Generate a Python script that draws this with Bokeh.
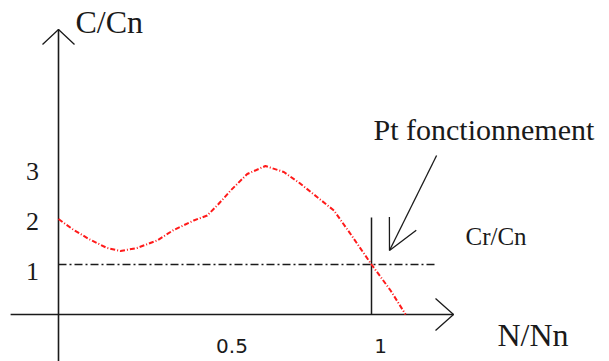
from bokeh.plotting import figure
from bokeh.models import Range1d, Arrow, OpenHead, ColumnDataSource
from bokeh.core.properties import value
from bokeh.embed import file_html
from bokeh.resources import INLINE

# ---- data ----
curve_x = [0.0, 0.044, 0.097, 0.155, 0.198, 0.251, 0.315, 0.368, 0.432, 0.475,
           0.507, 0.55, 0.603, 0.661, 0.72, 0.77, 0.826, 0.88, 0.933, 1.0, 1.061, 1.109]
curve_y = [1.91, 1.71, 1.51, 1.33, 1.27, 1.33, 1.48, 1.69, 1.88, 1.98,
           2.18, 2.48, 2.81, 2.97, 2.85, 2.63, 2.35, 2.08, 1.61, 1.0, 0.48, 0.0]
y_ticks = [1, 2, 3]
y_tick_labels = ["1", "2", "3"]
x_ticks = [0.5, 1]
x_tick_labels = ["0.5", "1"]
load_level = 1.0        # Cr/Cn
nominal_speed = 1.0     # N/Nn = 1

# ---- layout (pixel scale: 313 px per x unit, 50 px per y unit) ----
PX_X = 313.0
PX_Y = 50.0
W, H = 609, 361
OX, OY = 58, 314   # pixel position of the origin

p = figure(width=W, height=H, output_backend="svg", toolbar_location=None,
           x_range=Range1d(-OX / PX_X, (W - OX) / PX_X),
           y_range=Range1d(-(H - OY) / PX_Y, OY / PX_Y),
           x_axis_type=None, y_axis_type=None, min_border=0)
p.grid.visible = False
p.outline_line_color = None
p.background_fill_color = "white"
p.border_fill_color = "white"

ink = "#1a1a1a"

# axes lines
x_axis_end = 1.262
y_axis_end = 5.70
p.line([-0.153, x_axis_end], [0, 0], line_color=ink, line_width=1.6)
p.line([0, 0], [-1.0, y_axis_end], line_color=ink, line_width=1.6)
# axis arrow heads (open)
p.multi_line(
    xs=[[-16 / PX_X, 0, 16 / PX_X],
        [x_axis_end - 18 / PX_X, x_axis_end, x_axis_end - 18 / PX_X]],
    ys=[[y_axis_end - 15 / PX_Y, y_axis_end, y_axis_end - 15 / PX_Y],
        [16 / PX_Y, 0, -16 / PX_Y]],
    line_color=ink, line_width=1.3)

# load line Cr/Cn (dash-dot)
p.line([0, 1.205], [load_level, load_level], line_color=ink, line_width=1.5,
       line_dash="8 3 2 3")
# vertical line at N/Nn = 1
p.line([nominal_speed, nominal_speed], [0, 1.94], line_color=ink, line_width=1.5)

# motor torque curve
src = ColumnDataSource(dict(x=curve_x, y=curve_y))
p.line("x", "y", source=src, line_color="#ff1a1a", line_width=2,
       line_dash="5 2 1 2")

# operating point arrow
p.add_layout(Arrow(end=OpenHead(size=30, line_color=ink, line_width=1.3),
                   x_start=1.208, y_start=3.18, x_end=1.0575, y_end=1.28,
                   line_color=ink, line_width=1.3))

serif = value("Liberation Serif")

# tick labels
p.text(x=[0] * len(y_ticks), y=y_ticks, text=y_tick_labels,
       x_offset=-26, y_offset=7, text_align="center",
       text_baseline="middle", text_font=serif, text_font_size="26px",
       text_color=ink)
p.text(x=x_ticks, y=[0] * len(x_ticks), text=x_tick_labels,
       x_offset=[17, 9], y_offset=31, text_align="center",
       text_baseline="middle", text_font=value("DejaVu Sans"),
       text_font_size="20px", text_color=ink)

# axis titles and annotations
def tx(px):
    return (px - OX) / PX_X

def ty(py):
    return (OY - py) / PX_Y

p.text(x=[tx(75)], y=[ty(21)], text=["C/Cn"], text_align="left",
       text_baseline="middle", text_font=serif, text_font_size="32px",
       text_color=ink)
p.text(x=[tx(497)], y=[ty(334)], text=["N/Nn"], text_align="left",
       text_baseline="middle", text_font=serif, text_font_size="32px",
       text_color=ink)
p.text(x=[tx(465)], y=[ty(235.5)], text=["Cr/Cn"], text_align="left",
       text_baseline="middle", text_font=serif, text_font_size="25px",
       text_color=ink)
p.text(x=[tx(373)], y=[ty(128.5)], text=["Pt fonctionnement"], text_align="left",
       text_baseline="middle", text_font=serif, text_font_size="30px",
       text_color=ink)

open("out.html", "w").write(file_html(p, INLINE))
